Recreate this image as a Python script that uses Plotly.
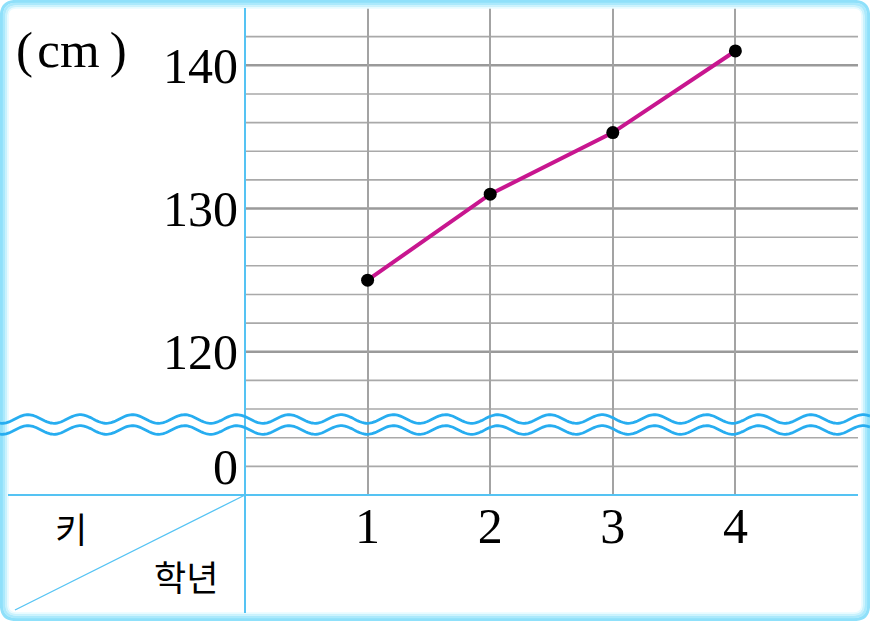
import math
import plotly.graph_objects as go

# ---- data ----
grades = [1, 2, 3, 4]
heights = [125.0, 131.0, 135.3, 141.0]
x_ticks = [1, 2, 3, 4]
x_tick_text = ["1", "2", "3", "4"]
# displayed axis: values >= 116 are true, 112 is the "0" position below the break
y_tick_vals = [112, 120, 130, 140]
y_tick_text = ["0", "120", "130", "140"]
minor_grid = [112, 114, 116, 118, 122, 124, 126, 128, 132, 134, 136, 138, 142]
major_grid = [120, 130, 140]

W, H = 870, 621
X0, X1, YT, YB = 245, 858, 8, 495


def px(x):
    return (x - X0) / (X1 - X0)


def py(y):
    return (YB - y) / (YB - YT)


def rrect(inset, r):
    a, b = inset, W - inset
    c, d = inset, H - inset
    pts = [
        f"M {px(a + r)},{py(c)}",
        f"L {px(b - r)},{py(c)}",
        f"Q {px(b)},{py(c)} {px(b)},{py(c + r)}",
        f"L {px(b)},{py(d - r)}",
        f"Q {px(b)},{py(d)} {px(b - r)},{py(d)}",
        f"L {px(a + r)},{py(d)}",
        f"Q {px(a)},{py(d)} {px(a)},{py(d - r)}",
        f"L {px(a)},{py(c + r)}",
        f"Q {px(a)},{py(c)} {px(a + r)},{py(c)}",
        "Z",
    ]
    return " ".join(pts)


def wave(ycenter, amp=4.3, wl=52.2, phase_x=28.0):
    segs = []
    x = 0.0
    first = True
    while x <= W + 0.5:
        y = ycenter - amp * math.cos(2 * math.pi * (x - phase_x) / wl)
        segs.append(("M" if first else "L") + f" {px(x)},{py(y)}")
        first = False
        x += 1.5
    return " ".join(segs)


fig = go.Figure()
fig.add_trace(go.Scatter(
    x=grades, y=heights, mode="lines+markers",
    line=dict(color="#c8168f", width=4),
    marker=dict(color="black", size=13),
    hoverinfo="skip", showlegend=False,
))

shapes = []
# horizontal grid lines
for v in minor_grid:
    shapes.append(dict(type="line", xref="paper", yref="y", x0=0, x1=1, y0=v, y1=v,
                       line=dict(color="#a9a9a9", width=1.6), layer="below"))
for v in major_grid:
    shapes.append(dict(type="line", xref="paper", yref="y", x0=0, x1=1, y0=v, y1=v,
                       line=dict(color="#9a9a9a", width=2.6), layer="below"))

# border glow
for inset, col, wdt in [(1.5, "#8fe0fa", 3.2), (4.2, "#abe9fc", 2.8), (6.4, "#caf2fd", 2.2), (8.0, "#e9fbff", 1.6)]:
    shapes.append(dict(type="path", xref="paper", yref="paper", path=rrect(inset, 16 - inset),
                       line=dict(color=col, width=wdt), layer="above"))

# axis lines
axis_col = "#55c3f3"
shapes.append(dict(type="line", xref="paper", yref="paper", x0=px(X0), x1=px(X0), y0=py(8), y1=py(613),
                   line=dict(color=axis_col, width=2), layer="above"))
shapes.append(dict(type="line", xref="paper", yref="paper", x0=px(8), x1=px(X1), y0=py(YB), y1=py(YB),
                   line=dict(color=axis_col, width=2), layer="above"))
shapes.append(dict(type="line", xref="paper", yref="paper", x0=px(X0), x1=px(15), y0=py(YB), y1=py(610),
                   line=dict(color=axis_col, width=1.3), layer="above"))

# break waves
for yc in (419, 430):
    shapes.append(dict(type="path", xref="paper", yref="paper", path=wave(yc),
                       line=dict(color="#27adf0", width=2.8), layer="above"))

serif = "Liberation Serif, Times New Roman, serif"
kr = "Noto Sans CJK KR, sans-serif"
annotations = [
    dict(text="(\u200acm\u2009)", xref="paper", yref="paper", x=px(71), y=py(50), showarrow=False,
         font=dict(family=serif, size=51, color="black"), xanchor="center", yanchor="middle"),
    dict(text="키", xref="paper", yref="paper", x=px(71), y=py(527), showarrow=False,
         font=dict(family=kr, size=35, color="black"), xanchor="center", yanchor="middle"),
    dict(text="학년", xref="paper", yref="paper", x=px(186), y=py(575), showarrow=False,
         font=dict(family=kr, size=35, color="black"), xanchor="center", yanchor="middle"),
]

fig.update_layout(
    width=W, height=H,
    margin=dict(l=X0, r=W - X1, t=YT, b=H - YB),
    paper_bgcolor="white", plot_bgcolor="white",
    shapes=shapes, annotations=annotations,
    xaxis=dict(range=[0, 5], tickvals=x_ticks, ticktext=x_tick_text,
               showgrid=True, gridcolor="#a3a3a3", gridwidth=2,
               zeroline=False, showline=False, ticks="",
               tickfont=dict(family=serif, size=50, color="black"),
               ticklabelstandoff=-3, fixedrange=True),
    yaxis=dict(range=[110, 144], tickvals=y_tick_vals, ticktext=y_tick_text,
               showgrid=False, zeroline=False, showline=False, ticks="",
               tickfont=dict(family=serif, size=50, color="black"),
               ticklabelstandoff=6, fixedrange=True),
)

fig.write_html("out.html", config={"displayModeBar": False},
               post_script="document.body.style.margin='0';")
